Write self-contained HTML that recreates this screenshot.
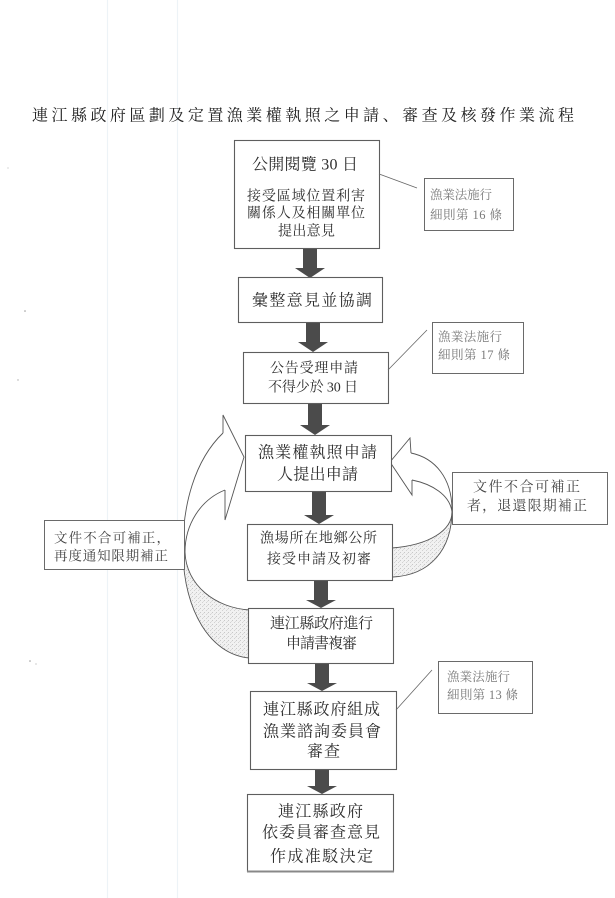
<!DOCTYPE html>
<html>
<head>
<meta charset="utf-8">
<style>
  html, body { margin: 0; padding: 0; background: #ffffff; }
  body { width: 615px; height: 898px; overflow: hidden; }
  svg { display: block; }
  .m { font-family: "Liberation Serif", "Noto Serif CJK SC", serif; fill: #2e2e2e; }
  .n { font-family: "Liberation Serif", "Noto Serif CJK SC", serif; fill: #7a7a7a; }
</style>
</head>
<body>
<svg width="615" height="898" viewBox="0 0 615 898" xmlns="http://www.w3.org/2000/svg">
  <defs>
    <pattern id="stip" width="4" height="4" patternUnits="userSpaceOnUse">
      <rect width="4" height="4" fill="#f1f1f1"/>
      <rect x="0" y="0" width="1" height="1" fill="#c8c8c8"/>
      <rect x="2" y="2" width="1" height="1" fill="#d2d2d2"/>
      <rect x="3" y="1" width="1" height="1" fill="#dcdcdc"/>
    </pattern>
  </defs>

  <!-- faint scan lines -->
  <line x1="107.5" y1="0" x2="107.5" y2="898" stroke="#edf3f7" stroke-width="1.2"/>
  <line x1="177.5" y1="0" x2="177.5" y2="898" stroke="#edf3f7" stroke-width="1.2"/>
  <!-- scan specks -->
  <circle cx="25" cy="311" r="0.8" fill="#999"/>
  <circle cx="18" cy="380" r="0.7" fill="#aaa"/>
  <circle cx="30" cy="661" r="0.8" fill="#999"/>
  <circle cx="36" cy="664" r="0.6" fill="#aaa"/>
  <circle cx="8" cy="168" r="0.6" fill="#bbb"/>

  <!-- Title -->
  <text class="m" x="32" y="116" font-size="16" dominant-baseline="central" textLength="542" lengthAdjust="spacing" style="fill:#222">連江縣政府區劃及定置漁業權執照之申請、審查及核發作業流程</text>

  <!-- Left loop arrow -->
  <path d="M184,552 C184,610 210,655 250,658 L250,610 C215,608 186,585 184,552 Z" fill="url(#stip)"/>
  <path d="M223,433 L223,415 L244,457 L225,520 L225,490" fill="none" stroke="#555" stroke-width="0.9"/>
  <path d="M223,433 C195,460 182,505 183,553 C184,610 210,655 250,658" fill="none" stroke="#555" stroke-width="0.9"/>
  <path d="M225,490 C200,500 185,525 185,552 C186,585 215,608 250,610" fill="none" stroke="#555" stroke-width="0.9"/>

  <!-- Right loop arrow -->
  <path d="M452,512 C452,550 430,575 393,577 L392,548 C430,545 452,530 452,512 Z" fill="url(#stip)"/>
  <path d="M411,453 L410,438 L390,462 L412,495 L412,480" fill="none" stroke="#555" stroke-width="0.9"/>
  <path d="M411,453 C435,458 452,478 452,510 C452,550 430,575 393,577" fill="none" stroke="#555" stroke-width="0.9"/>
  <path d="M412,480 C432,484 450,495 452,512 C452,530 430,545 392,548" fill="none" stroke="#555" stroke-width="0.9"/>

  <!-- Block arrows -->
  <g fill="#4b4b4b">
    <polygon points="303,248 317,248 317,268 325,268 310,278 295,268 303,268"/>
    <polygon points="306,322 320,322 320,342 328,342 313,352 298,342 306,342"/>
    <polygon points="308,403 322,403 322,425 330,425 315,435 300,425 308,425"/>
    <polygon points="312,491 326,491 326,515 334,515 319,524 304,515 312,515"/>
    <polygon points="314,580 328,580 328,600 336,600 321,608 306,600 314,600"/>
    <polygon points="315,663 329,663 329,683 337,683 322,691 307,683 315,683"/>
    <polygon points="315,769 329,769 329,786 337,786 322,794 307,786 315,786"/>
  </g>

  <!-- Main boxes -->
  <g fill="#fff" stroke="#5e5e5e" stroke-width="1.1">
    <rect x="234.5" y="140.5" width="145" height="108"/>
    <rect x="238.5" y="277.5" width="144" height="45"/>
    <rect x="243.5" y="352.5" width="145" height="51"/>
    <rect x="245.5" y="435.5" width="146" height="56"/>
    <rect x="247.5" y="524.5" width="145" height="56"/>
    <rect x="248.5" y="608.5" width="145" height="55"/>
    <rect x="250.5" y="691.5" width="146" height="78"/>
    <rect x="247.5" y="794.5" width="146" height="77"/>
  </g>
  <line x1="247" y1="871.5" x2="394" y2="871.5" stroke="#888" stroke-width="2"/>

  <!-- Note boxes -->
  <g fill="#fff" stroke="#6a6a6a" stroke-width="1">
    <rect x="424.5" y="178.5" width="89" height="52"/>
    <rect x="432.5" y="322.5" width="91" height="51"/>
    <rect x="438.5" y="661.5" width="94" height="52"/>
    <rect x="44.5" y="520.5" width="140" height="49"/>
    <rect x="452.5" y="472.5" width="155" height="52"/>
  </g>

  <!-- Connectors to notes -->
  <g stroke="#666" stroke-width="0.8">
    <line x1="379" y1="174" x2="417" y2="188"/>
    <line x1="388" y1="370" x2="427" y2="330"/>
    <line x1="396" y1="710" x2="432" y2="670"/>
  </g>

  <!-- Box 1 text -->
  <text class="m" x="252" y="165" font-size="16" dominant-baseline="central" textLength="106" lengthAdjust="spacing">公開閱覽 30 日</text>
  <text class="m" x="247" y="197" font-size="14" dominant-baseline="central" textLength="118" lengthAdjust="spacing">接受區域位置利害</text>
  <text class="m" x="247" y="214" font-size="14" dominant-baseline="central" textLength="118" lengthAdjust="spacing">關係人及相關單位</text>
  <text class="m" x="278" y="232" font-size="14" dominant-baseline="central" textLength="57" lengthAdjust="spacing">提出意見</text>

  <!-- Box 2 -->
  <text class="m" x="252" y="301" font-size="16" dominant-baseline="central" textLength="120" lengthAdjust="spacing">彙整意見並協調</text>

  <!-- Box 3 -->
  <text class="m" x="270" y="369" font-size="14" dominant-baseline="central" textLength="88" lengthAdjust="spacing">公告受理申請</text>
  <text class="m" x="268" y="388" font-size="14" dominant-baseline="central" textLength="90" lengthAdjust="spacing">不得少於 30 日</text>

  <!-- Box 4 -->
  <text class="m" x="258" y="453" font-size="16" dominant-baseline="central" textLength="119" lengthAdjust="spacing">漁業權執照申請</text>
  <text class="m" x="277" y="475" font-size="16" dominant-baseline="central" textLength="81" lengthAdjust="spacing">人提出申請</text>

  <!-- Box 5 -->
  <text class="m" x="260" y="539" font-size="14" dominant-baseline="central" textLength="117" lengthAdjust="spacing">漁場所在地鄉公所</text>
  <text class="m" x="267" y="560" font-size="14" dominant-baseline="central" textLength="104" lengthAdjust="spacing">接受申請及初審</text>

  <!-- Box 6 -->
  <text class="m" x="270" y="624" font-size="15" dominant-baseline="central" textLength="103" lengthAdjust="spacing">連江縣政府進行</text>
  <text class="m" x="286" y="644" font-size="15" dominant-baseline="central" textLength="71" lengthAdjust="spacing">申請書複審</text>

  <!-- Box 7 -->
  <text class="m" x="263" y="710" font-size="16" dominant-baseline="central" textLength="117" lengthAdjust="spacing">連江縣政府組成</text>
  <text class="m" x="263" y="732" font-size="16" dominant-baseline="central" textLength="118" lengthAdjust="spacing">漁業諮詢委員會</text>
  <text class="m" x="307" y="752" font-size="16" dominant-baseline="central" textLength="33" lengthAdjust="spacing">審查</text>

  <!-- Box 8 -->
  <text class="m" x="278" y="812" font-size="16" dominant-baseline="central" textLength="85" lengthAdjust="spacing">連江縣政府</text>
  <text class="m" x="262" y="833" font-size="16" dominant-baseline="central" textLength="118" lengthAdjust="spacing">依委員審查意見</text>
  <text class="m" x="270" y="857" font-size="16" dominant-baseline="central" textLength="103" lengthAdjust="spacing">作成准駁決定</text>

  <!-- Note texts -->
  <text class="n" x="430" y="195" font-size="12.5" dominant-baseline="central" textLength="62" lengthAdjust="spacing">漁業法施行</text>
  <text class="n" x="430" y="215" font-size="12.5" dominant-baseline="central" textLength="72" lengthAdjust="spacing">細則第 16 條</text>

  <text class="n" x="438" y="337" font-size="12.5" dominant-baseline="central" textLength="64" lengthAdjust="spacing">漁業法施行</text>
  <text class="n" x="438" y="355" font-size="12.5" dominant-baseline="central" textLength="72" lengthAdjust="spacing">細則第 17 條</text>

  <text class="n" x="447" y="677" font-size="12.5" dominant-baseline="central" textLength="63" lengthAdjust="spacing">漁業法施行</text>
  <text class="n" x="447" y="695" font-size="12.5" dominant-baseline="central" textLength="71" lengthAdjust="spacing">細則第 13 條</text>

  <!-- Left note -->
  <text class="m" x="54" y="538" font-size="13.5" dominant-baseline="central" textLength="116" lengthAdjust="spacing" style="fill:#444">文件不合可補正，</text>
  <text class="m" x="54" y="556" font-size="13.5" dominant-baseline="central" textLength="114" lengthAdjust="spacing" style="fill:#444">再度通知限期補正</text>

  <!-- Right note -->
  <text class="m" x="473" y="488" font-size="14" dominant-baseline="central" textLength="107" lengthAdjust="spacing" style="fill:#444">文件不合可補正</text>
  <text class="m" x="467" y="507" font-size="14" dominant-baseline="central" textLength="120" lengthAdjust="spacing" style="fill:#444">者，退還限期補正</text>
</svg>
</body>
</html>
